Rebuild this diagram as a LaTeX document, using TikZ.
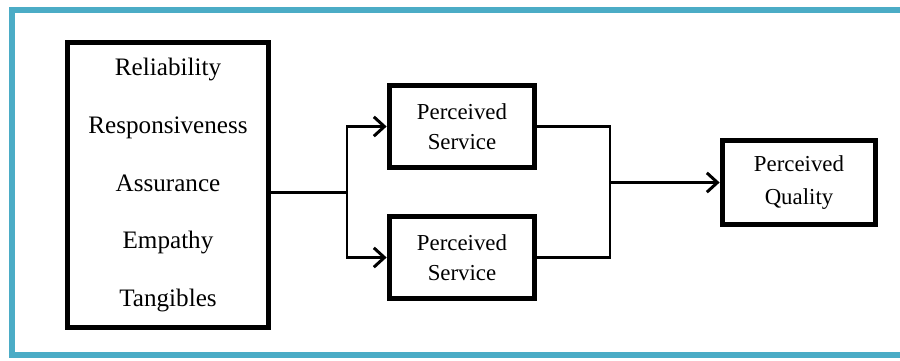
\documentclass[tikz,border=0pt]{standalone}
\usepackage{fontspec}
\setmainfont{Liberation Serif}
\usetikzlibrary{arrows,arrows.meta,positioning,calc}

\definecolor{frameteal}{RGB}{75,172,198}

\begin{document}
\begin{tikzpicture}[x=0.02cm, y=-0.02cm, >={Straight Barb[length=6pt, width=11pt]}]
  \tikzstyle{blockbox}=[rectangle, draw, line width=3.3pt, inner sep=0pt, align=center]
  \tikzstyle{dimbox}=[blockbox, minimum width=4.02cm, minimum height=5.7cm, font=\fontsize{14.3}{32.9}\selectfont]
  \tikzstyle{servbox}=[blockbox, minimum width=2.9cm, minimum height=1.64cm, font=\fontsize{13}{17}\selectfont]
  \tikzstyle{qualbox}=[blockbox, minimum width=3.06cm, minimum height=1.68cm, font=\fontsize{13}{18.7}\selectfont]
  \tikzstyle{link}=[line width=1.7pt]

  \useasboundingbox (0,0) rectangle (900,360);
  % outer frame
  \draw[frameteal, line width=3pt] (12,10) rectangle (920,355);

  \node[dimbox] (dims) at (168,185) {Reliability\\Responsiveness\\Assurance\\Empathy\\Tangibles};
  \node[servbox] (ps1) at (462,126.5) {Perceived\\Service};
  \node[servbox] (ps2) at (462,257.5) {Perceived\\Service};
  \node[qualbox] (pq) at (799,182.5) {Perceived\\Quality};

  \coordinate (split) at (347,192);
  \coordinate (merge) at (610,182.5);

  % dimensions feed both service boxes
  \draw[link] (dims.east |- split) -- (split);
  \draw[link, ->] (split) |- (ps1.west);
  \draw[link, ->] (split) |- (ps2.west);
  % both services join into quality
  \draw[link] (ps1.east) -| (merge) |- (ps2.east);
  \draw[link, ->] (merge) -- (pq.west);
\end{tikzpicture}
\end{document}
